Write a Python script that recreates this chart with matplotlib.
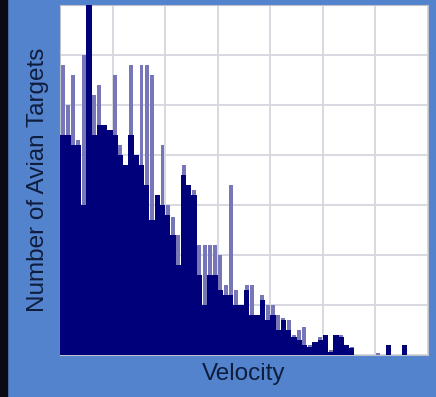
import numpy as np
import matplotlib.pyplot as plt
from matplotlib.patches import Rectangle

# --- data (one bin per velocity step) ---
all_targets = [58, 50, 56, 43, 60, 40, 52, 54, 46, 45,
               56, 42, 34, 58, 36, 58, 58, 56, 32, 42,
               30, 27.6, 24, 38, 34, 33, 22, 22, 22, 22,
               20, 14, 34, 13, 10, 14, 14, 8, 12, 10,
               10, 8, 7.5, 7, 4, 5, 5.6, 2, 2.6, 3.6,
               4, 1, 4, 4, 2, 1.6, 0, 0, 0, 0,
               0.4, 0, 2, 0, 0, 2, 0]
filtered_targets = [44, 44, 42, 42, 30, 70, 44, 46, 46, 45,
                    44, 40, 38, 44, 40, 38, 34, 27, 32, 30,
                    28, 24, 18, 36, 34, 32, 16, 10, 16, 16,
                    13, 12, 12, 10, 10, 13, 8, 8, 11, 7,
                    8, 5, 7, 5, 3.6, 3, 2, 1.6, 2.6, 3,
                    4, 0.6, 4, 3.6, 2, 1.4, 0, 0, 0, 0,
                    0, 0, 2, 0, 0, 2, 0]
x_label = 'Velocity'
y_label = 'Number of Avian Targets'

bins = np.arange(len(all_targets))

fig = plt.figure(figsize=(4.36, 3.97), dpi=100)
fig.patch.set_facecolor('#5283cc')
# dark strip down the left edge of the screenshot
fig.patches.append(Rectangle((0, 0), 7 / 436, 1, transform=fig.transFigure,
                             color='#0a0a14', zorder=0))

ax = fig.add_axes([60 / 436, 42 / 397, 368 / 436, 350 / 397])
ax.set_facecolor('white')

# light bars are a bit narrower so they read as separate stripes
ax.bar(bins + 0.5, all_targets, width=0.75, color='#7676b8', zorder=2)
ax.bar(bins, filtered_targets, width=1.0, align='edge', color='#00007a', zorder=3)

ax.set_xlim(0, 70)
ax.set_ylim(0, 70)
ax.set_xticks(range(0, 71, 10))
ax.set_yticks(range(0, 71, 10))
ax.tick_params(length=0, labelbottom=False, labelleft=False)
ax.grid(True, color='#d6d6de', linewidth=1.3, zorder=1)
ax.set_axisbelow(True)
for s in ax.spines.values():
    s.set_color('#c0c0cc')
    s.set_linewidth(0.8)

font = dict(family=['Liberation Sans', 'DejaVu Sans'], fontsize=17.5, color='#0f1d3d')
ax.set_xlabel(x_label, labelpad=6, **font)
ax.set_ylabel(y_label, labelpad=8, **font)

fig.savefig('out.png', dpi=100, facecolor=fig.get_facecolor())
